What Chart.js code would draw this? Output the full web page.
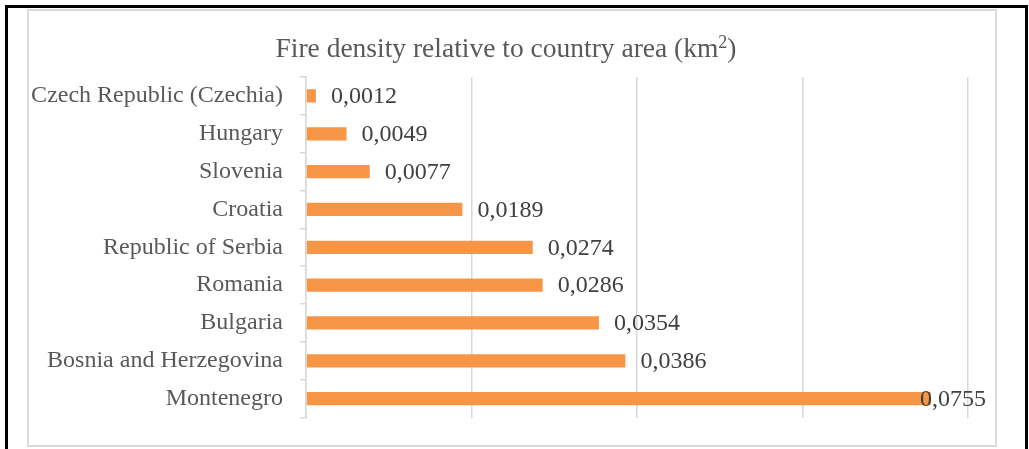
<!DOCTYPE html>
<html>
<head>
<meta charset="utf-8">
<script src="https://cdn.jsdelivr.net/npm/chart.js@4.4.1/dist/chart.umd.min.js"></script>
<style>
    html, body { margin: 0; padding: 0; background: #fff; }
    body { width: 1029px; height: 449px; position: relative; overflow: hidden; }
    .frame { position: absolute; left: 5px; top: 5px; width: 1023px; height: 460px; border: 3px solid #000; border-bottom: none; box-sizing: border-box; }
    .box { position: absolute; left: 27px; top: 9px; width: 970px; height: 438px; border: 2px solid #d9d9d9; box-sizing: border-box; }
    canvas { position: absolute; left: 0; top: 0; }
</style>
</head>
<body>
<div class="frame"></div>
<div class="box"></div>
<canvas id="fireChart" width="1029" height="449"></canvas>
<script>
    // Data
    const countries = ['Czech Republic (Czechia)', 'Hungary', 'Slovenia', 'Croatia', 'Republic of Serbia',
        'Romania', 'Bulgaria', 'Bosnia and Herzegovina', 'Montenegro'];
    const density = [0.0012, 0.0049, 0.0077, 0.0189, 0.0274, 0.0286, 0.0354, 0.0386, 0.0755];
    const xTicks = [0, 0.02, 0.04, 0.06, 0.08];
    const titleMain = 'Fire density relative to country area (km';
    const titleSup = '2';
    const titleEnd = ')';

    const serif = '"Liberation Serif", "Times New Roman", serif';

    // Title with a real superscript
    const supTitle = {
        id: 'supTitle',
        afterDraw(chart) {
            const ctx = chart.ctx;
            ctx.save();
            ctx.fillStyle = '#595959';
            ctx.textBaseline = 'alphabetic';
            ctx.textAlign = 'left';
            const big = '27.5px ' + serif, small = '18px ' + serif;
            ctx.font = big;
            const w1 = ctx.measureText(titleMain).width;
            const w3 = ctx.measureText(titleEnd).width;
            ctx.font = small;
            const w2 = ctx.measureText(titleSup).width;
            const total = w1 + w2 + w3;
            let x = 506 - total / 2;
            const base = 57;
            ctx.font = big;
            ctx.fillText(titleMain, x, base);
            x += w1;
            ctx.font = small;
            ctx.fillText(titleSup, x, base - 9);
            x += w2;
            ctx.font = big;
            ctx.fillText(titleEnd, x, base);
            ctx.restore();
        }
    };

    // Value labels at the end of each bar (comma decimal, like the original)
    const valueLabels = {
        id: 'valueLabels',
        afterDatasetsDraw(chart) {
            const ctx = chart.ctx;
            const meta = chart.getDatasetMeta(0);
            ctx.save();
            ctx.font = '24px ' + serif;
            ctx.fillStyle = '#404040';
            ctx.textBaseline = 'middle';
            ctx.textAlign = 'left';
            meta.data.forEach((bar, i) => {
                const text = density[i].toFixed(4).replace('.', ',');
                const w = ctx.measureText(text).width;
                const x = Math.min(bar.x + 15, chart.chartArea.right + 18 - w);
                ctx.fillText(text, x, bar.y + 1);
            });
            ctx.restore();
        }
    };

    const ctx = document.getElementById('fireChart').getContext('2d');
    new Chart(ctx, {
        type: 'bar',
        data: {
            labels: countries,
            datasets: [{
                data: density,
                backgroundColor: '#f79646',
                borderWidth: 0,
                categoryPercentage: 1,
                barPercentage: 0.35
            }]
        },
        options: {
            indexAxis: 'y',
            responsive: false,
            animation: false,
            layout: { padding: { left: 0, right: 61, top: 77, bottom: 31 } },
            plugins: {
                legend: { display: false },
                tooltip: { enabled: false },
                title: { display: false }
            },
            scales: {
                x: {
                    min: 0,
                    max: 0.08,
                    afterBuildTicks: (scale) => { scale.ticks = xTicks.map(v => ({ value: v })); },
                    ticks: { display: false },
                    grid: { color: '#d9d9d9', lineWidth: 1.5, drawTicks: false },
                    border: { display: false }
                },
                y: {
                    afterFit: (scale) => { scale.width = 306; },
                    ticks: {
                        color: '#595959',
                        padding: 17,
                        font: { family: serif, size: 24 }
                    },
                    grid: { drawOnChartArea: false, drawTicks: true, tickLength: 6, color: '#d9d9d9', lineWidth: 1.5 },
                    border: { display: true, color: '#d9d9d9', width: 1.5 }
                }
            }
        },
        plugins: [valueLabels, supTitle]
    });
</script>
</body>
</html>
